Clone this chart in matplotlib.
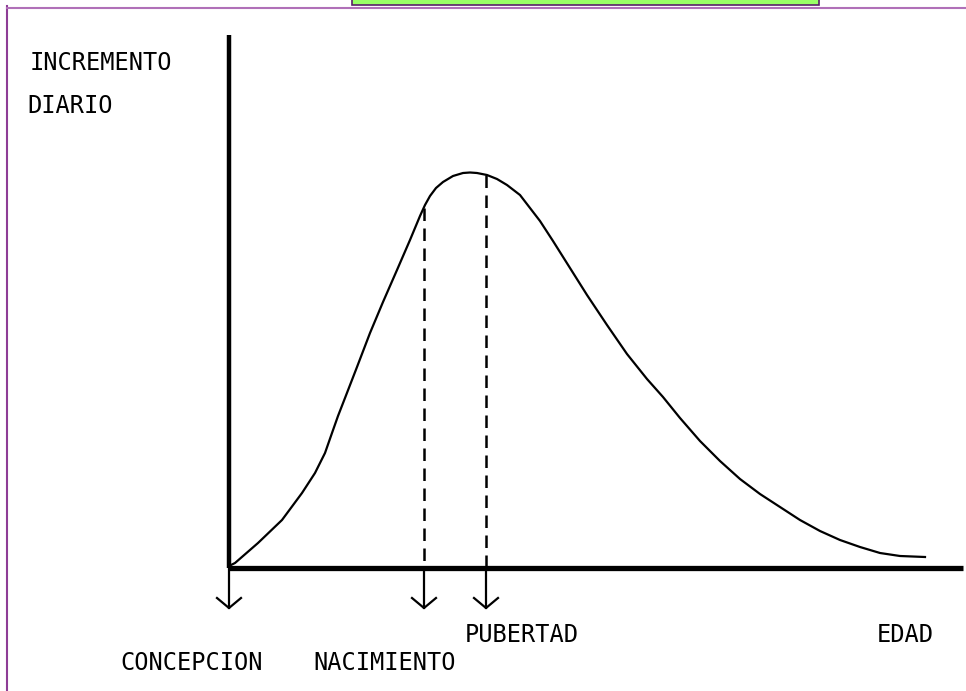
import numpy as np
import matplotlib
matplotlib.use("Agg")
import matplotlib.pyplot as plt
from matplotlib.patches import Rectangle
from matplotlib.lines import Line2D

# Curva de incremento diario (edad relativa a la concepcion, incremento)
edad = [0, 6, 29, 53, 73, 86, 96, 103, 109, 116, 128, 141, 154, 168, 181,
        191, 196, 201, 207, 214, 224, 234, 241, 248, 258, 268, 278, 291,
        311, 324, 341, 358, 378, 398, 418, 434, 451, 471, 491, 511, 531,
        551, 571, 591, 611, 631, 651, 671, 696]
incremento = [2, 5, 25, 48, 75, 95, 115, 135, 152, 170, 201, 235, 266, 298,
              328, 352, 363, 372, 380, 386, 392, 395, 395.5, 395, 393, 389,
              383, 373, 347, 327, 300, 273, 243, 214, 189, 171, 150, 127,
              107, 89, 74, 61, 48, 37, 28, 21, 15, 12, 11]

# Eventos marcados sobre el eje de edad
eventos = ["CONCEPCION", "NACIMIENTO", "PUBERTAD"]
edad_eventos = [0, 195, 257]
altura_eventos = [0, 360, 393]

fig = plt.figure(figsize=(9.66, 6.91), dpi=100)
ax = fig.add_axes([0, 0, 1, 1])
ax.set_xlim(-229, 737)
ax.set_ylim(-123, 568)
ax.axis("off")

# marco de la pagina
fig.add_artist(Line2D([7 / 966, 7 / 966], [0, 1 - 6 / 691], color="#8e3d96", lw=1.5))
fig.add_artist(Line2D([7 / 966, 1], [1 - 8 / 691, 1 - 8 / 691], color="#b070b8", lw=1.5))
fig.add_artist(Rectangle((352 / 966, 1 - 5 / 691), 467 / 966, 6 / 691,
                         facecolor="#99ff66", edgecolor="#5a1f6a", lw=1.2))

# ejes dibujados a mano
ax.plot([0, 0], [0, 533], color="black", lw=3.2, solid_capstyle="butt")
ax.plot([0, 734], [0, 0], color="black", lw=3.8, solid_capstyle="butt")

# curva
ax.plot(edad, incremento, color="black", lw=1.6, solid_joinstyle="round")

# flechas y lineas discontinuas
for x, h in zip(edad_eventos, altura_eventos):
    if h > 0:
        ax.plot([x, x], [h, 0], color="black", lw=1.8, linestyle=(0, (5, 3)))
    ax.plot([x, x], [0, -40], color="black", lw=1.6)
    ax.plot([x - 12, x, x + 12], [-30, -40, -30], color="black", lw=1.6)

txt = dict(family="DejaVu Sans Mono", fontsize=17, color="black", va="center")
ax.text(-199, 505, "INCREMENTO", **txt)
ax.text(-202, 462, "DIARIO", **txt)
ax.text(-109, -95, eventos[0], **txt)
ax.text(84, -95, eventos[1], **txt)
ax.text(236, -67, eventos[2], **txt)
ax.text(648, -67, "EDAD", **txt)

fig.savefig("out.png", dpi=100)
